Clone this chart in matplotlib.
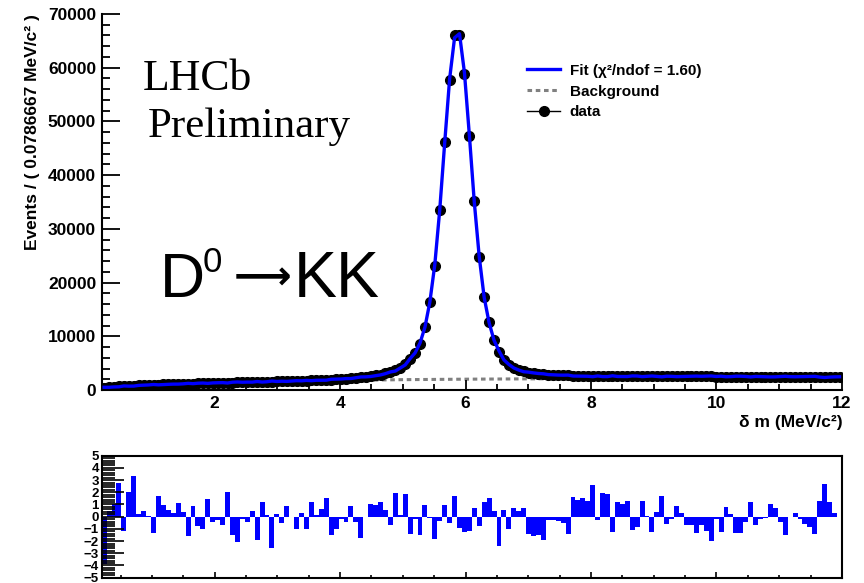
import numpy as np
import matplotlib
matplotlib.use("Agg")
import matplotlib.pyplot as plt
from matplotlib.lines import Line2D
from matplotlib.ticker import MultipleLocator

plt.rcParams['font.family'] = ['Liberation Sans', 'DejaVu Sans']
plt.rcParams['font.weight'] = 'bold'
plt.rcParams['mathtext.fontset'] = 'dejavusans'

# histogram binning (150 bins of 0.0786667 MeV)
xmin, xmax, nbins = 0.2, 12.0, 150

# events per bin
counts = [
    430, 520, 600, 670, 730, 780, 830, 870, 910, 950,
    985, 1020, 1050, 1080, 1110, 1140, 1165, 1190, 1215, 1240,
    1265, 1290, 1310, 1335, 1355, 1380, 1400, 1420, 1445, 1465,
    1485, 1510, 1530, 1550, 1575, 1600, 1620, 1645, 1670, 1700,
    1725, 1755, 1785, 1820, 1855, 1895, 1940, 1990, 2045, 2110,
    2180, 2260, 2350, 2450, 2570, 2710, 2880, 3080, 3330, 3650,
    4100, 4800,
    5750, 6900, 8600, 11800, 16400, 23100, 33500, 46200, 57800, 66000,
    66100, 58800, 47200, 35100, 24700, 17400, 12700, 9300, 7100, 5650,
    4700, 4150, 3750, 3450, 3250, 3100, 3000, 2920, 2860, 2810,
    2770, 2740, 2710, 2690, 2670, 2650, 2630, 2620,
    2610, 2600, 2595, 2590, 2585, 2580, 2575, 2570, 2565, 2560,
    2555, 2550, 2548, 2545, 2542, 2540, 2537, 2535, 2532, 2530,
    2528, 2525, 2522, 2520, 2518, 2515, 2512, 2510, 2508, 2505,
    2503, 2500, 2498, 2496, 2494, 2492, 2490, 2488, 2486, 2484,
    2482, 2480, 2478, 2476, 2474, 2472, 2470, 2468, 2466, 2464,
]

# pull per bin (lower pad)
pulls = [
    -3.9, 0.5, 1.0, 2.75, -1.2, 2.05, 3.35, 0.2, 0.45, 0.05,
    -1.35, 1.7, 0.95, 0.55, 0.3, 1.1, 0.4, -1.55, 0.9, -0.8,
    -1.05, 1.45, -0.45, -0.25, -0.65, 2.0, -1.5, -2.1, -0.15, -0.4,
    0.45, -1.95, 1.2, 0.15, -2.55, 0.2, -0.55, 0.9, -0.05, -0.98,
    0.3, -0.98, 1.2, 0.1, 0.63, 1.53, -1.47, -0.98, -0.2, -0.4,
    0.87, -0.4, -1.72, -0.03, 1.04, 0.96, 1.2, 0.55, -0.65, 1.94,
    0.14, 1.86, -1.4, -0.15, -1.47, 0.96, -0.08, -1.8, -0.33, 0.96,
    -0.5, 1.7, -0.9, -1.28, -1.15, 0.7, -0.74, 1.2, 1.53, 0.46,
    -2.38, 0.55, -0.98, 0.7, 0.46, 0.7, -1.4, -1.56, -1.47, -1.88,
    -0.25, -0.25, -0.33, -0.5, -1.4, 1.6, 1.37, 1.53, 1.28, 2.6,
    -0.25, 1.94, 1.86, -1.23, 1.2, 1.04, 1.28, -1.07, -0.82, 1.28,
    0.05, -1.23, 0.38, 1.7, -0.57, -0.16, 0.87, 0.3, -0.65, -0.65,
    -1.3, -0.65, -1.15, -1.97, -0.16, -1.23, 0.8, 0.22, -1.3, -1.3,
    -0.4, 1.2, -0.65, -0.16, -0.08, 1.04, 0.7, -0.4, -1.47, -0.05,
    0.3, -0.16, -0.57, -0.82, -1.4, 1.28, 2.68, 1.2, 0.3, -0.05,
]

# background component (dashed)
bkg_x = [0.2, 0.4, 0.7, 1.0, 1.5, 2.0, 3.0, 4.0, 5.0, 6.0, 7.0, 8.0, 9.0, 10.0, 11.0, 12.0]
bkg_y = [250, 500, 760, 930, 1150, 1320, 1560, 1780, 1930, 2020, 2080, 2130, 2170, 2200, 2220, 2240]

edges = np.linspace(xmin, xmax, nbins + 1)
centers = 0.5 * (edges[:-1] + edges[1:])
width = edges[1] - edges[0]
counts = np.array(counts, dtype=float)
pulls = np.array(pulls)
# fitted curve : data - pull * error
fit = counts - pulls * np.sqrt(counts)

W, H = 864, 583
fig = plt.figure(figsize=(8.64, 5.83), dpi=100)

# ---- upper pad
ax = fig.add_axes([0.1177, 0.331, 0.8568, 0.645])
ax.errorbar(centers, counts, yerr=np.sqrt(counts), fmt='o', color='black',
            ms=7, lw=1, zorder=2)
ax.plot(bkg_x, bkg_y, color='#808080', ls=(0, (1.5, 1.2)), lw=2.2, zorder=1)
ax.plot(centers, fit, color='blue', lw=2.4, zorder=3)

ax.set_xlim(xmin, xmax)
ax.set_ylim(0, 70000)
ax.xaxis.set_major_locator(MultipleLocator(2))
ax.xaxis.set_minor_locator(MultipleLocator(0.5))
ax.yaxis.set_major_locator(MultipleLocator(10000))
ax.yaxis.set_minor_locator(MultipleLocator(2000))
ax.spines['top'].set_visible(False)
ax.spines['right'].set_visible(False)
for s in ['left', 'bottom']:
    ax.spines[s].set_linewidth(1.5)
ax.tick_params(which='both', direction='in', width=1.3, labelsize=12.5)
ax.tick_params(axis='y', which='major', length=13, pad=4)
ax.tick_params(axis='y', which='minor', length=6)
ax.tick_params(axis='x', which='major', length=7, pad=4)
ax.tick_params(axis='x', which='minor', length=4)

handles = [
    Line2D([], [], color='blue', lw=2.4),
    Line2D([], [], color='#808080', lw=2.2, ls=(0, (1.5, 1.2))),
    Line2D([], [], color='black', lw=1, marker='o', ms=7),
]
labels = ['Fit (\u03c7\u00b2/ndof = 1.60)', 'Background', 'data']
ax.legend(handles, labels, loc='upper left', bbox_to_anchor=(0.566, 0.884),
          frameon=False, fontsize=11, handlelength=2.2, labelspacing=0.45,
          handletextpad=0.6, borderaxespad=0)

fig.text(143 / W, 1 - 90 / H, 'LHCb', family='Liberation Serif',
         weight='normal', fontsize=31.5, va='baseline')
fig.text(148 / W, 1 - 137 / H, 'Preliminary', family='Liberation Serif',
         weight='normal', fontsize=31, va='baseline')

# D0 -> KK label, built from pieces like the ROOT latex
big = dict(family=['Liberation Sans', 'DejaVu Sans'], weight='normal', va='baseline')
fig.text(160 / W, 1 - 297 / H, 'D', fontsize=45, **big)
fig.text(203 / W, 1 - 272 / H, '0', fontsize=25, **big)
fig.text(258 / W, 1 - 277 / H, r'$\longrightarrow$', fontsize=29,
         ha='center', va='center')
fig.text(294 / W, 1 - 297 / H, 'KK', fontsize=46.5, **big)

fig.text(33 / W, 1 - 132 / H, 'Events / ( 0.0786667 MeV/c\u00b2 )',
         rotation=90, ha='center', va='center', fontsize=12.5)
fig.text(843 / W, 1 - 423 / H, '\u03b4 m (MeV/c\u00b2)', ha='right',
         va='center', fontsize=12.5)

# ---- pull pad
rax = fig.add_axes([0.1177, 0.0091, 0.8568, 0.2093])
rax.bar(centers, pulls, width=width, color='blue', lw=0)
rax.set_xlim(xmin, xmax)
rax.set_ylim(-5, 5)
rax.set_yticks(range(-5, 6))
rax.yaxis.set_minor_locator(MultipleLocator(0.2))
rax.xaxis.set_major_locator(MultipleLocator(2))
rax.xaxis.set_minor_locator(MultipleLocator(0.5))
rax.set_xticklabels([])
for s in rax.spines.values():
    s.set_linewidth(1.5)
rax.tick_params(which='both', direction='in', width=1.2, labelsize=9.5)
rax.tick_params(axis='y', which='major', length=16, pad=2)
rax.tick_params(axis='y', which='minor', length=9)
rax.tick_params(axis='x', which='major', length=4)
rax.tick_params(axis='x', which='minor', length=2)

fig.savefig('out.png', dpi=100)
